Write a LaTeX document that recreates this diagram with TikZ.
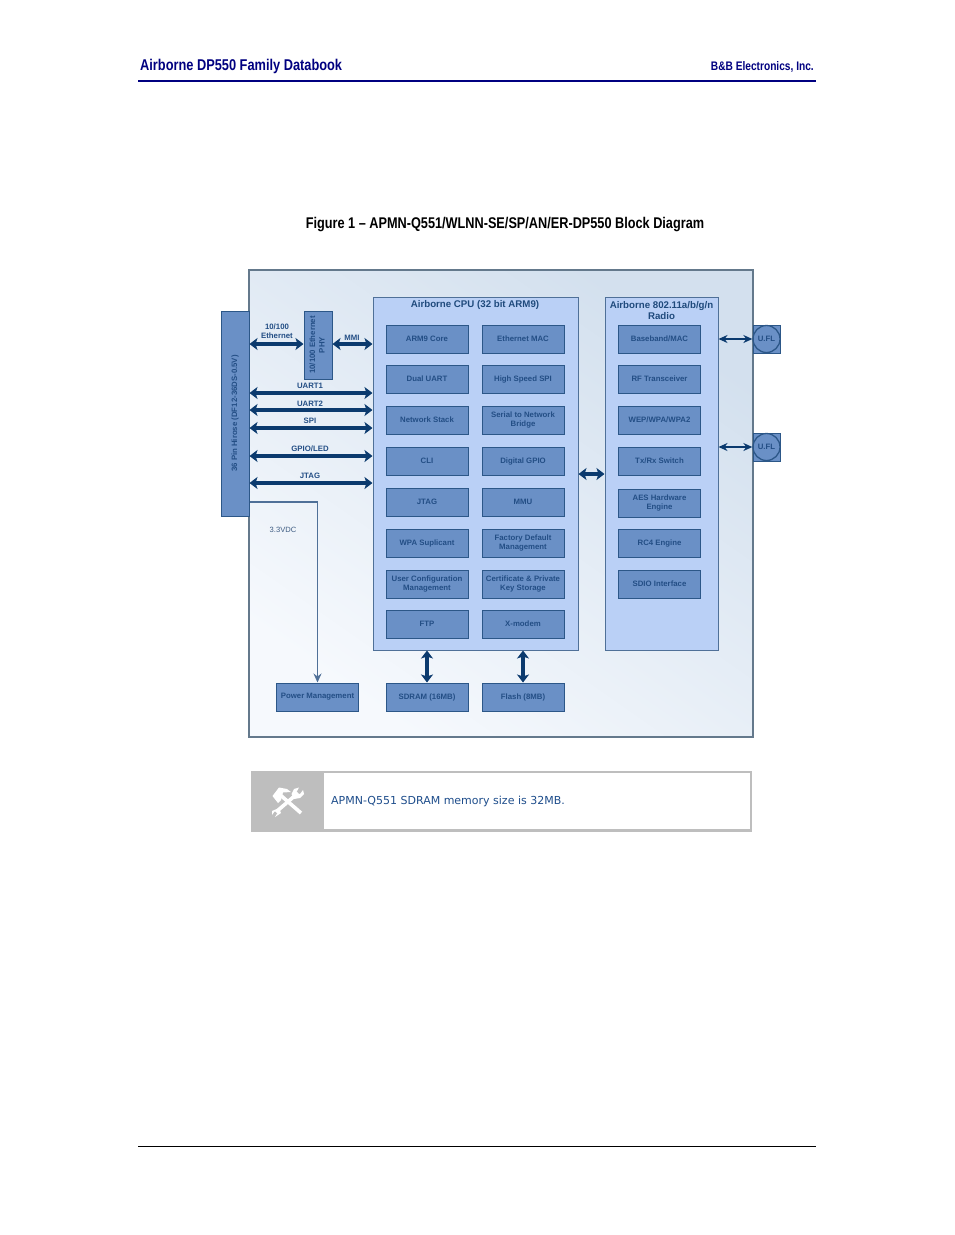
\documentclass[tikz,border=0pt]{standalone}
\usepackage{fontspec}
\setmainfont{Liberation Sans}
\newfontfamily\narrowbold[FakeStretch=0.82]{Liberation Sans Bold}
\newfontfamily\notefont{DejaVu Sans}
\usetikzlibrary{arrows.meta,calc}
\definecolor{blkfill}{HTML}{6A90C6}
\definecolor{blkline}{HTML}{2C5788}
\definecolor{blktext}{HTML}{234E85}
\definecolor{panel}{HTML}{BAD0F6}
\definecolor{panelline}{HTML}{4F7098}
\definecolor{outerline}{HTML}{64798C}
\definecolor{bus}{HTML}{0B3A6E}
\definecolor{titletext}{HTML}{1F4A7C}
\definecolor{navy}{HTML}{000080}
\definecolor{notegrey}{HTML}{BEBEBE}
\definecolor{notetext}{HTML}{1F4E8C}
\definecolor{bgdark}{HTML}{D3E0EE}
\definecolor{bglight}{HTML}{F6F9FD}
\tikzset{
  blk/.style={draw=blkline,fill=blkfill,line width=1pt,minimum width=82pt,minimum height=28pt,inner sep=0pt,
    align=center,text=blktext,font=\fontsize{7.8}{9.2}\selectfont\bfseries},
  pnl/.style={draw=panelline,fill=panel,line width=1pt,inner sep=0pt},
  ptitle/.style={text=titletext,font=\fontsize{9.7}{11.8}\selectfont\bfseries,align=center,inner sep=0pt},
  buslabel/.style={text=blktext,font=\fontsize{7.8}{9.2}\selectfont\bfseries,align=center,inner sep=0pt},
  busarrow/.style={draw=bus,line width=3.8pt,{Stealth[length=8pt,width=12pt,inset=2pt]}-{Stealth[length=8pt,width=12pt,inset=2pt]}},
  thinarrow/.style={draw=bus,line width=1.3pt,{Stealth[length=9pt,width=8pt]}-{Stealth[length=9pt,width=8pt]}},
  pwrline/.style={draw=panelline,line width=1.3pt,-{Stealth[length=9pt,width=8pt]}},
  sidebox/.style={draw=blkline,fill=blkfill,line width=1pt,inner sep=0pt,align=center,text=blktext,font=\fontsize{7.8}{9}\selectfont\bfseries},
}
\begin{document}
\begin{tikzpicture}[x=1pt,y=-1pt]
\useasboundingbox (0,0) rectangle (954,1235);
\fill[white] (0,0) rectangle (954,1235);
% header
\node[anchor=west,inner sep=0pt,text=navy,font=\fontsize{15.6}{17}\narrowbold] (hdl) at (140,66) {Airborne DP550 Family Databook};
\node[anchor=east,inner sep=0pt,text=navy,font=\fontsize{12.4}{14}\narrowbold] (hdr) at (814,66.5) {B\&B Electronics, Inc.};
\draw[navy,line width=2pt] (138,81) -- (816,81);
\draw[black,line width=.8pt] (138,1146) -- (816,1146);
\node[inner sep=0pt,font=\fontsize{15.5}{17}\narrowbold] (cap) at (505,225) {Figure 1 – APMN-Q551/WLNN-SE/SP/AN/ER-DP550 Block Diagram};
% outer frame
\shade[shading=axis,bottom color=bglight,top color=bgdark,shading angle=-35] (249,270) rectangle (753,737);
\draw[outerline,line width=1.4pt] (249,270) rectangle (753,737);
% panels
\node[pnl,minimum width=205pt,minimum height=353pt] (cpu) at (475.5,473.5) {};
\node[pnl,minimum width=113pt,minimum height=353pt] (radio) at (661.5,473.5) {};
\node[ptitle] (cput) at (475,305) {Airborne CPU (32 bit ARM9)};
\node[ptitle] (radt) at (661.5,310.5) {Airborne 802.11a/b/g/n\\Radio};
% cpu blocks
\node[blk] (a1) at (427,339) {ARM9 Core};
\node[blk] (b1) at (523,339) {Ethernet MAC};
\node[blk] (a2) at (427,379) {Dual UART};
\node[blk] (b2) at (523,379) {High Speed SPI};
\node[blk] (a3) at (427,420) {Network Stack};
\node[blk] (b3) at (523,420) {Serial to Network\\Bridge};
\node[blk] (a4) at (427,461) {CLI};
\node[blk] (b4) at (523,461) {Digital GPIO};
\node[blk] (a5) at (427,502) {JTAG};
\node[blk] (b5) at (523,502) {MMU};
\node[blk] (a6) at (427,543) {WPA Suplicant};
\node[blk] (b6) at (523,543) {Factory Default\\Management};
\node[blk] (a7) at (427,584) {User Configuration\\Management};
\node[blk] (b7) at (523,584) {Certificate \& Private\\Key Storage};
\node[blk] (a8) at (427,624) {FTP};
\node[blk] (b8) at (523,624) {X-modem};
% radio blocks
\node[blk] (r1) at (659.5,339) {Baseband/MAC};
\node[blk] (r2) at (659.5,379) {RF Transceiver};
\node[blk] (r3) at (659.5,420) {WEP/WPA/WPA2};
\node[blk] (r4) at (659.5,461) {Tx/Rx Switch};
\node[blk] (r5) at (659.5,503) {AES Hardware\\Engine};
\node[blk] (r6) at (659.5,543) {RC4 Engine};
\node[blk] (r7) at (659.5,584) {SDIO Interface};
% bottom blocks
\node[blk] (pwr) at (317.5,697) {Power Management};
\node[blk] (sdram) at (427,697) {SDRAM (16MB)};
\node[blk] (flash) at (523,697) {Flash (8MB)};
% side boxes
\node[sidebox,minimum width=28pt,minimum height=205pt] (conn) at (235,413.5) {\rotatebox{90}{36 Pin Hirose (DF12-36DS-0.5V)}};
\node[sidebox,minimum width=28pt,minimum height=68pt] (phy) at (318,345) {\rotatebox{90}{\begin{tabular}{@{}c@{}}10/100 Ethernet\\[0.5pt]PHY\end{tabular}}};
% U.FL
\node[sidebox,minimum width=27pt,minimum height=28pt] (uf1) at (766.5,339) {};
\node[sidebox,minimum width=27pt,minimum height=28pt] (uf2) at (766.5,447) {};
\node[draw=blkline,line width=1.3pt,circle,minimum size=27pt,inner sep=0pt,text=blktext,font=\fontsize{7.8}{8}\selectfont\bfseries] (c1) at (766.5,339) {U.FL};
\node[draw=blkline,line width=1.3pt,circle,minimum size=27pt,inner sep=0pt,text=blktext,font=\fontsize{7.8}{8}\selectfont\bfseries] (c2) at (766.5,447) {U.FL};
% bus labels
\node[buslabel] (l0) at (277,331) {10/100\\Ethernet};
\node[buslabel] (l1) at (352,337.5) {MMI};
\node[buslabel] (l2) at (310,386) {UART1};
\node[buslabel] (l3) at (310,404) {UART2};
\node[buslabel] (l4) at (310,421) {SPI};
\node[buslabel] (l5) at (310,449) {GPIO/LED};
\node[buslabel] (l6) at (310,476) {JTAG};
\node[inner sep=0pt,text=blktext!70!gray,font=\fontsize{7.6}{9}\selectfont] (l7) at (283,529.5) {3.3VDC};
% connector reference heights
\coordinate (ye) at (0,344);
\coordinate (y1) at (0,393);
\coordinate (y2) at (0,410);
\coordinate (y3) at (0,428);
\coordinate (y4) at (0,456);
\coordinate (y5) at (0,483);
\coordinate (y6) at (0,502);
\coordinate (y7) at (0,474);
% buses
\draw[busarrow] (conn.east |- ye) -- (phy.west |- ye);
\draw[busarrow] (phy.east |- ye) -- (cpu.west |- ye);
\draw[busarrow] (conn.east |- y1) -- (cpu.west |- y1);
\draw[busarrow] (conn.east |- y2) -- (cpu.west |- y2);
\draw[busarrow] (conn.east |- y3) -- (cpu.west |- y3);
\draw[busarrow] (conn.east |- y4) -- (cpu.west |- y4);
\draw[busarrow] (conn.east |- y5) -- (cpu.west |- y5);
\draw[busarrow] (cpu.east |- y7) -- (radio.west |- y7);
\draw[busarrow] (cpu.south -| sdram) -- (sdram.north);
\draw[busarrow] (cpu.south -| flash) -- (flash.north);
\draw[thinarrow] (radio.east |- c1) -- (c1.west);
\draw[thinarrow] (radio.east |- c2) -- (c2.west);
\draw[pwrline] (conn.east |- y6) -| (pwr.north);
% note
\node[draw=notegrey,line width=2pt,minimum width=499pt,minimum height=59pt,inner sep=0pt] (note) at (501,801) {};
\draw[notegrey,line width=2.5pt] (251,830.5) -- (752,830.5);
\node[fill=notegrey,minimum width=73pt,minimum height=60pt,inner sep=0pt] (noteicon) at (287.5,801) {};
\node[anchor=west,inner sep=0pt,text=notetext,font=\fontsize{11}{13}\notefont] (notetxt) at (331,801) {APMN-Q551 SDRAM memory size is 32MB.};
% tool icon
\begin{scope}[white]
\draw[line width=3.6pt] (278,793) -- (301,813);
\fill (272.5,796) -- (279,787.5) -- (287,789) -- (291,792) -- (283,792.5) -- (281,800) -- (278,803) -- cycle;
\draw[line width=3.6pt] (298,793) -- (276,812);
\fill (303,790) -- (300,794) -- (296,793) -- (299,787.5) -- (294,789) -- (291.5,794) -- (294,799) -- (300,798) -- (304,794) -- cycle;
\fill (272,811) -- (279,808) -- (281,813) -- (275,817) -- (278,812) -- (274.5,811.5) -- (272,815) -- cycle;
\end{scope}
\end{tikzpicture}
\end{document}
